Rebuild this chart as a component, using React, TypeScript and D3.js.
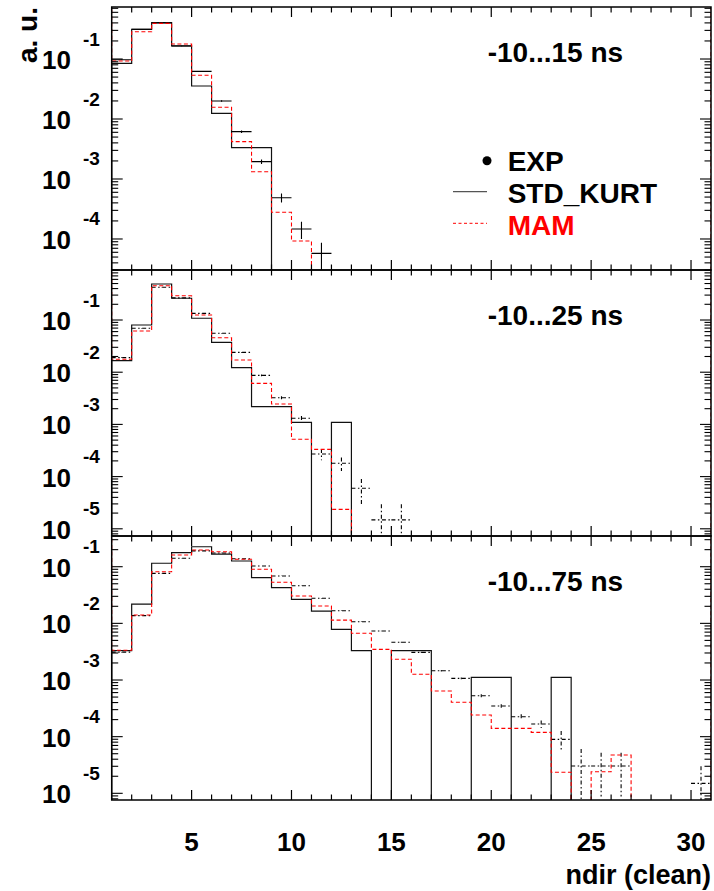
import React from 'react';
import * as d3 from 'd3';

// ---------- data ----------
const binStarts = [1, 2, 3, 4, 5, 6, 7, 8, 9, 10, 11, 12, 13, 14, 15, 16, 17, 18, 19, 20, 21, 22, 23, 24, 25, 26, 27, 28, 29, 30];
const xTickLabels = [5, 10, 15, 20, 25, 30];
const panelLabels = ['-10...15 ns', '-10...25 ns', '-10...75 ns'];
const legendLabels = ['EXP', 'STD_KURT', 'MAM'];

// panel 1 : -10...15 ns
const expTop = [0.0973, 0.313, 0.40, 0.165, 0.0623, 0.020, 0.00615, 0.001945, 4.88e-4, 1.47e-4, 5.75e-5, 0, 0, 0, 0, 0, 0, 0, 0, 0, 0, 0, 0, 0, 0, 0, 0, 0, 0, 0];
const expErrTop = [0.01, 0.005, 0.005, 0.008, 0.012, 0.027, 0.048, 0.086, 0.17, 0.32, 0.5, 0, 0, 0, 0, 0, 0, 0, 0, 0, 0, 0, 0, 0, 0, 0, 0, 0, 0, 0];
const stdTop = [0.0848, 0.313, 0.403, 0.165, 0.0355, 0.01244, 0.00333, 0.00333, 0, 0, 0, 0, 0, 0, 0, 0, 0, 0, 0, 0, 0, 0, 0, 0, 0, 0, 0, 0, 0, 0];
const mamTop = [0.0926, 0.285, 0.393, 0.178, 0.0535, 0.01566, 0.00419, 0.001324, 2.79e-4, 9.27e-5, 0, 0, 0, 0, 0, 0, 0, 0, 0, 0, 0, 0, 0, 0, 0, 0, 0, 0, 0, 0];

// panel 2 : -10...25 ns
const expMid = [0.019, 0.0693, 0.423, 0.265, 0.134, 0.0556, 0.024, 0.0087, 0.00325, 0.00131, 2.71e-4, 1.80e-4, 5.97e-5, 1.48e-5, 1.48e-5, 0, 0, 0, 0, 0, 0, 0, 0, 0, 0, 0, 0, 0, 0, 0];
const expErrMid = [0.02, 0.01, 0.004, 0.005, 0.007, 0.011, 0.017, 0.04, 0.067, 0.11, 0.24, 0.29, 0.5, 1, 1, 0, 0, 0, 0, 0, 0, 0, 0, 0, 0, 0, 0, 0, 0, 0];
const stdMid = [0.01664, 0.0802, 0.49, 0.261, 0.108, 0.0373, 0.01222, 0.00219, 0.00219, 0.001096, 0, 0.001096, 0, 0, 0, 0, 0, 0, 0, 0, 0, 0, 0, 0, 0, 0, 0, 0, 0, 0];
const mamMid = [0.01766, 0.0615, 0.454, 0.292, 0.125, 0.0458, 0.01714, 0.00612, 0.00246, 5.18e-4, 3.33e-4, 2.36e-5, 0, 0, 0, 0, 0, 0, 0, 0, 0, 0, 0, 0, 0, 0, 0, 0, 0, 0];

// panel 3 : -10...75 ns
const expBot = [0.0031, 0.0137, 0.0764, 0.1406, 0.19, 0.175, 0.138, 0.103, 0.0686, 0.0462, 0.0277, 0.0167, 0.0107, 0.00733, 0.00463, 0.00308, 0.00146, 0.00107, 5.28e-4, 3.48e-4, 2.25e-4, 1.67e-4, 8.97e-5, 3.03e-5, 3.03e-5, 3.03e-5, 0, 0, 0, 1.5e-5];
const expErrBot = [0.01, 0.005, 0.003, 0.003, 0.003, 0.003, 0.003, 0.004, 0.005, 0.006, 0.008, 0.01, 0.013, 0.015, 0.019, 0.023, 0.033, 0.04, 0.06, 0.07, 0.11, 0.15, 0.4, 1, 0.71, 0.71, 0, 0, 0, 1];
const stdBot = [0.00329, 0.0219, 0.115, 0.177, 0.225, 0.167, 0.126, 0.064, 0.0426, 0.0265, 0.0165, 0.00785, 0.00329, 0, 0.00329, 0.00329, 0, 0, 0.001117, 0.001117, 0, 0, 0.001117, 0, 0, 0, 0, 0, 0, 0];
const mamBot = [0.00335, 0.01403, 0.0816, 0.161, 0.197, 0.184, 0.135, 0.09, 0.0531, 0.0304, 0.0202, 0.0114, 0.00667, 0.00348, 0.00232, 0.00126, 6.4e-4, 4.04e-4, 2.41e-4, 1.40e-4, 1.40e-4, 1.19e-4, 2.35e-5, 0, 2.4e-5, 4.74e-5, 0, 0, 0, 0];

const yLogDomains = [[-4.517, -0.133], [-5.138, -0.042], [-5.118, -0.458]];
const yDecades = [[-1, -2, -3, -4], [-1, -2, -3, -4, -5], [-1, -2, -3, -4, -5]];

// ---------- layout ----------
const W = 714;
const H = 891;
const X0 = 111.7;
const X1 = 711;
const panelTop = [7, 270, 536];
const panelBottom = [270, 536, 800];
const FONT = '"Liberation Sans", Arial, Helvetica, sans-serif';

const x = d3.scaleLinear().domain([1, 31]).range([X0, X1]);

const panels = [
  { exp: expTop, err: expErrTop, std: stdTop, mam: mamTop, expDash: null as string | null },
  { exp: expMid, err: expErrMid, std: stdMid, mam: mamMid, expDash: '4,2.5,1.5,2.5' },
  { exp: expBot, err: expErrBot, std: stdBot, mam: mamBot, expDash: '4,2.5,1.5,2.5' },
];

function stepPath(values: number[], y: d3.ScaleLogarithmic<number, number>, top: number, bottom: number, under: 'top' | 'bottom', over: 'top' | 'bottom') {
  const yy = (v: number) => (v > 0 ? y(v) : bottom + 4);
  const pts: [number, number][] = [[x(binStarts[0]), under === 'top' ? top - 4 : bottom + 4]];
  values.forEach((v, i) => pts.push([x(binStarts[i]), yy(v)]));
  const last = binStarts[binStarts.length - 1] + 1;
  pts.push([x(last), yy(values[values.length - 1])]);
  pts.push([x(last), over === 'top' ? top - 4 : bottom + 4]);
  return d3.line().curve(d3.curveStepAfter)(pts) as string;
}

function Panel({ idx }: { idx: number }) {
  const top = panelTop[idx];
  const bottom = panelBottom[idx];
  const [lo, hi] = yLogDomains[idx];
  const y = d3.scaleLog().domain([Math.pow(10, lo), Math.pow(10, hi)]).range([bottom, top]);
  const p = panels[idx];
  const clipId = `clip${idx}`;

  const yTicks: { v: number; major: boolean }[] = [];
  for (let e = Math.floor(lo); e <= Math.ceil(hi); e++) {
    for (let m = 1; m <= 9; m++) {
      const v = m * Math.pow(10, e);
      const lv = Math.log10(v);
      if (lv >= lo && lv <= hi) yTicks.push({ v, major: m === 1 });
    }
  }
  const xTicks = binStarts.filter((b) => b > 1);

  return (
    <g>
      <defs>
        <clipPath id={clipId}>
          <rect x={X0} y={top} width={X1 - X0} height={bottom - top} />
        </clipPath>
      </defs>
      <g clipPath={`url(#${clipId})`}>
        <path d={stepPath(p.std, y, top, bottom, 'bottom', 'bottom')} fill="none" stroke="#111" strokeWidth={1.2} />
        {p.exp.map((v, i) => {
          if (!(v > 0)) return null;
          const cx = x(binStarts[i] + 0.5);
          const e = p.err[i];
          const yUp = y(v * (1 + e));
          const low = v * (1 - e);
          const yDn = low > 0 ? y(low) : bottom + 4;
          return (
            <g key={i} stroke="#000" strokeWidth={1.1} strokeDasharray={p.expDash ?? undefined}>
              <line x1={x(binStarts[i])} x2={x(binStarts[i] + 1)} y1={y(v)} y2={y(v)} />
              <line x1={cx} x2={cx} y1={yUp} y2={yDn} />
            </g>
          );
        })}
        <path d={stepPath(p.mam, y, top, bottom, 'top', 'top')} fill="none" stroke="#ff0000" strokeWidth={1.1} strokeDasharray="4,2.5" />
      </g>
      <rect x={X0} y={top} width={X1 - X0} height={bottom - top} fill="none" stroke="#000" strokeWidth={1.5} />
      {xTicks.map((t) => {
        const len = t % 5 === 0 ? 10 : 5.5;
        return (
          <g key={t} stroke="#000" strokeWidth={1.2}>
            <line x1={x(t)} x2={x(t)} y1={top} y2={top + len} />
            <line x1={x(t)} x2={x(t)} y1={bottom} y2={bottom - len} />
          </g>
        );
      })}
      {yTicks.map((t, i) => {
        const len = t.major ? 11 : 6.5;
        const yy = y(t.v);
        return (
          <g key={i} stroke="#000" strokeWidth={1.1}>
            <line x1={X0} x2={X0 + len} y1={yy} y2={yy} />
            <line x1={X1} x2={X1 - len} y1={yy} y2={yy} />
          </g>
        );
      })}
      {yDecades[idx].map((d) => {
        const yy = y(Math.pow(10, d));
        return (
          <g key={d} fontFamily={FONT} fontWeight="bold" fill="#000">
            <text x={71} y={yy + 10} fontSize={26} textAnchor="end">10</text>
            <text x={83} y={yy - 13.5} fontSize={19} textAnchor="start">{String(d)}</text>
          </g>
        );
      })}
      <text x={487.7} y={top + 54.7} fontFamily={FONT} fontWeight="bold" fontSize={28} fill="#000">
        {panelLabels[idx]}
      </text>
    </g>
  );
}

export default function App() {
  return (
    <svg width={W} height={H} style={{ position: 'absolute', left: 0, top: 0, background: '#fff' }}>
      <rect x={0} y={0} width={W} height={H} fill="#fff" />
      {[0, 1, 2].map((i) => (
        <Panel key={i} idx={i} />
      ))}
      {xTickLabels.map((t) => (
        <text key={t} x={x(t)} y={851} fontFamily={FONT} fontWeight="bold" fontSize={26} textAnchor="middle" fill="#000">
          {t}
        </text>
      ))}
      <text x={711} y={884} fontFamily={FONT} fontWeight="bold" fontSize={27} textAnchor="end" fill="#000">
        ndir (clean)
      </text>
      <text transform="translate(36.5,7) rotate(-90)" fontFamily={FONT} fontWeight="bold" fontSize={28} textAnchor="end" fill="#000">
        a. u.
      </text>
      <g fontFamily={FONT} fontWeight="bold" fontSize={28}>
        <circle cx={487} cy={160.7} r={4.5} fill="#000" />
        <text x={507.7} y={170.7} fill="#000">{legendLabels[0]}</text>
        <line x1={453} x2={487} y1={191.7} y2={191.7} stroke="#555" strokeWidth={1.2} />
        <text x={507.7} y={203.3} fill="#000">{legendLabels[1]}</text>
        <line x1={453} x2={487} y1={223.3} y2={223.3} stroke="#ff0000" strokeWidth={1} strokeDasharray="3,2.5" />
        <text x={507.7} y={235} fill="#ff0000">{legendLabels[2]}</text>
      </g>
    </svg>
  );
}
